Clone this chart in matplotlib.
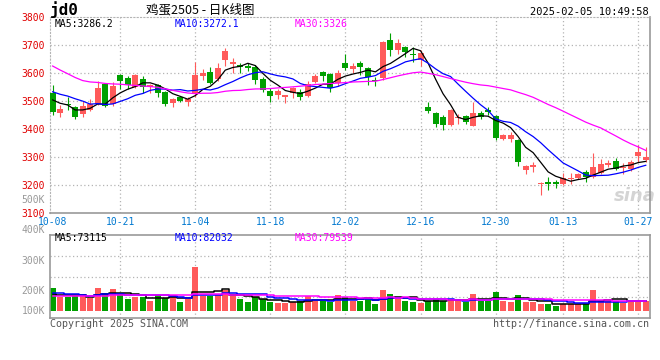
import numpy as np
import pandas as pd
import matplotlib
matplotlib.use('Agg')
import matplotlib.pyplot as plt
import matplotlib.transforms as mtransforms

# egg futures jd2505, daily candles 2024-10-08 .. 2025-02-05
opens = [3531, 3458, 3492, 3479, 3453, 3470, 3492, 3560, 3490, 3594,
         3582, 3551, 3580, 3550, 3557, 3532, 3494, 3515, 3497, 3525,
         3591, 3606, 3578, 3648, 3633, 3630, 3627, 3624, 3580, 3537,
         3521, 3517, 3529, 3534, 3520, 3570, 3603, 3597, 3565, 3638,
         3616, 3638, 3618, 3576, 3582, 3719, 3684, 3693, 3668, 3648,
         3481, 3459, 3445, 3415, 3441, 3447, 3412, 3459, 3469, 3447,
         3366, 3366, 3362, 3253, 3265, 3205, 3213, 3211, 3205, 3222,
         3225, 3248, 3231, 3245, 3272, 3287, 3262, 3257, 3305, 3290]
highs = [3558, 3487, 3516, 3482, 3500, 3508, 3574, 3564, 3570, 3598,
         3590, 3596, 3590, 3562, 3562, 3536, 3512, 3520, 3514, 3642,
         3614, 3623, 3637, 3690, 3654, 3638, 3636, 3628, 3586, 3546,
         3545, 3524, 3552, 3543, 3574, 3597, 3609, 3600, 3612, 3669,
         3638, 3644, 3622, 3588, 3717, 3745, 3721, 3697, 3695, 3683,
         3499, 3462, 3451, 3473, 3455, 3450, 3499, 3467, 3479, 3452,
         3384, 3391, 3364, 3274, 3284, 3213, 3231, 3219, 3243, 3243,
         3245, 3255, 3314, 3293, 3290, 3296, 3278, 3290, 3344, 3335]
lows = [3451, 3443, 3469, 3437, 3444, 3465, 3488, 3478, 3482, 3545,
        3545, 3548, 3530, 3530, 3515, 3484, 3478, 3496, 3483, 3516,
        3576, 3560, 3574, 3627, 3600, 3602, 3607, 3560, 3533, 3498,
        3508, 3495, 3511, 3505, 3516, 3566, 3574, 3534, 3556, 3612,
        3602, 3594, 3558, 3555, 3576, 3662, 3669, 3659, 3641, 3626,
        3457, 3409, 3398, 3413, 3419, 3420, 3410, 3438, 3451, 3362,
        3360, 3356, 3269, 3240, 3249, 3165, 3183, 3191, 3202, 3205,
        3222, 3213, 3225, 3240, 3266, 3255, 3240, 3250, 3284, 3284]
closes = [3463, 3471, 3486, 3444, 3482, 3492, 3548, 3483, 3556, 3571,
          3558, 3594, 3550, 3557, 3530, 3491, 3508, 3502, 3507, 3594,
          3600, 3565, 3618, 3680, 3641, 3621, 3619, 3577, 3540, 3518,
          3535, 3522, 3546, 3516, 3562, 3590, 3591, 3548, 3602, 3620,
          3626, 3621, 3588, 3571, 3713, 3684, 3707, 3677, 3664, 3671,
          3466, 3419, 3415, 3469, 3444, 3427, 3459, 3443, 3461, 3368,
          3380, 3378, 3284, 3269, 3272, 3209, 3206, 3206, 3225, 3227,
          3239, 3228, 3264, 3276, 3281, 3258, 3265, 3282, 3320, 3302]
# volume in thousands
volumes = [178, 112, 107, 118, 118, 104, 178, 144, 171, 131,
           94, 112, 112, 78, 123, 99, 123, 70, 91, 352,
           118, 118, 123, 166, 118, 94, 70, 112, 94, 72,
           64, 64, 72, 78, 120, 80, 78, 72, 126, 112,
           80, 80, 94, 54, 166, 134, 94, 78, 70, 64,
           78, 94, 80, 94, 94, 70, 134, 78, 78, 150,
           78, 70, 126, 70, 70, 54, 54, 38, 54, 54,
           54, 54, 166, 80, 78, 78, 64, 78, 78, 78]

# sessions before 10-08, only needed so the moving averages start at the left edge
warmup_close = [3900, 3880, 3850, 3813, 3640, 3600, 3590, 3609, 3600, 3630,
                3650, 3610, 3620, 3610, 3660, 3670, 3650, 3640, 3658, 3560,
                3560, 3550, 3540, 3565, 3600, 3531, 3516, 3534, 3481]
warmup_vol = [96, 104, 110, 92, 98, 102, 95, 105, 100, 99,
              101, 97, 103, 108, 94, 100, 96, 104, 98, 98,
              150, 172, 158, 165, 155, 120, 112, 125, 115]

date_ticks = [0, 9, 19, 29, 39, 49, 59, 68, 78]
date_labels = ['10-08', '10-21', '11-04', '11-18', '12-02', '12-16', '12-30', '01-13', '01-27']
price_ticks = [3100, 3200, 3300, 3400, 3500, 3600, 3700, 3800]
vol_labels = ['500K', '400K', '300K', '200K', '100K']
vol_label_pos = [886, 646, 400, 160, 0]
ma_price_text = ['MA5:3286.2', 'MA10:3272.1', 'MA30:3326']
ma_vol_text = ['MA5:73115', 'MA10:82032', 'MA30:79539']
ma_colors = ['black', '#0000ff', '#ff00ff']

RED = '#ff5a5a'
GREEN = '#00a000'
GRID = '#b4b4b4'
FRAME = '#999999'

plt.rcParams['font.family'] = ['DejaVu Sans Mono']

o = np.array(opens, float)
h = np.array(highs, float)
l = np.array(lows, float)
c = np.array(closes, float)
v = np.array(volumes, float)
x = np.arange(len(c))
up = c >= o
cols = np.where(up, RED, GREEN)

nw = len(warmup_close)
c_all = pd.Series(warmup_close + closes)
v_all = pd.Series(warmup_vol + volumes)
ma_p = [c_all.rolling(n).mean().values[nw:] for n in (5, 10, 30)]
ma_v = [v_all.rolling(n).mean().values[nw:] for n in (5, 10, 30)]

W, H = 660, 360
fig = plt.figure(figsize=(W / 100, H / 100), dpi=100)


def px_axes(x0, y0, x1, y1):
    return fig.add_axes([x0 / W, 1 - y1 / H, (x1 - x0) / W, (y1 - y0) / H])


ax = px_axes(50, 17.3, 649.5, 213.3)
axv = px_axes(50, 234.7, 649.5, 318.3)

# ---- price panel
ax.set_xlim(-0.35, len(c) - 0.5)
ax.set_ylim(3100, 3800)
for p in price_ticks[1:-1]:
    ax.axhline(p, color=GRID, lw=0.9, ls=(0, (1, 2)), zorder=0)
for t in date_ticks[1:]:
    ax.axvline(t, color=GRID, lw=0.9, ls=(0, (1, 2)), zorder=0)

ax.vlines(x, l, h, colors=cols, lw=0.8, zorder=2)
body = np.maximum(np.abs(c - o), 3.5)
ax.bar(x, body, bottom=np.minimum(o, c), width=0.8, color=cols, lw=0, zorder=3)

for m, col in zip(ma_p, ma_colors):
    ax.plot(x, m, color=col, lw=0.9, zorder=4)

ax.set_yticks(price_ticks)
ax.set_yticklabels([str(p) for p in price_ticks])
ax.tick_params(axis='y', length=0, pad=4, labelsize=7, labelcolor='#e00000')
ax.set_xticks(date_ticks)
ax.set_xticklabels(date_labels)
ax.tick_params(axis='x', length=0, pad=2.5, labelsize=7, labelcolor='#0078d0')

for side in ('left', 'top'):
    ax.spines[side].set_linestyle((0, (1, 2)))
    ax.spines[side].set_color(GRID)
for side in ('right', 'bottom'):
    ax.spines[side].set_color(FRAME)
    ax.spines[side].set_linewidth(1.2)

ax.text(0.975, 0.09, 'sina', transform=ax.transAxes, ha='center', va='center',
        fontsize=13, style='italic', weight='bold', color='#d4d4d4',
        family='DejaVu Sans', zorder=1)

# ---- volume panel
axv.set_xlim(ax.get_xlim())
vlo, vhi = -60.8, 608
axv.set_ylim(vlo, vhi)
for g in np.linspace(vlo, vhi, 5)[1:-1]:
    axv.axhline(g, color=GRID, lw=0.9, ls=(0, (1, 2)), zorder=0)
for t in date_ticks[1:]:
    axv.axvline(t, color=GRID, lw=0.9, ls=(0, (1, 2)), zorder=0)
axv.bar(x, v, width=0.8, color=cols, lw=0, zorder=2)
for m, col in zip(ma_v, ma_colors):
    axv.plot(x, m, color=col, lw=1.1, drawstyle='steps-mid', zorder=3)
axv.set_xticks([])
axv.set_yticks([])
for s in axv.spines.values():
    s.set_color(FRAME)
    s.set_linewidth(1.2)

tr = mtransforms.blended_transform_factory(axv.transAxes, axv.transData)
for lab, pos in zip(vol_labels, vol_label_pos):
    axv.text(-0.008, pos, lab, transform=tr, ha='right', va='center',
             fontsize=7, color='#999999', clip_on=False)

# ---- header / labels
fig.text(50 / W, 1 - 10 / H, 'jd0', ha='left', va='center', fontsize=11.5, weight='bold')
fig.text(200 / W, 1 - 10 / H, '鸡蛋2505 - 日K线图', ha='center', va='center', fontsize=9,
         family=['Noto Sans CJK SC', 'DejaVu Sans'])
fig.text(649 / W, 1 - 12 / H, '2025-02-05 10:49:58', ha='right', va='center', fontsize=7.5)

for txt, col, xp in zip(ma_price_text, ma_colors, [55, 175, 295]):
    fig.text(xp / W, 1 - 24 / H, txt, ha='left', va='center', fontsize=7, color=col)
for txt, col, xp in zip(ma_vol_text, ma_colors, [55, 175, 295]):
    fig.text(xp / W, 1 - 238 / H, txt, ha='left', va='center', fontsize=7, color=col)

fig.text(50 / W, 1 - 324 / H, 'Copyright 2025 SINA.COM', ha='left', va='center',
         fontsize=7.2, color='#555555')
fig.text(649 / W, 1 - 324 / H, 'http://finance.sina.com.cn', ha='right', va='center',
         fontsize=7.2, color='#555555')

fig.savefig('out.png', dpi=100, facecolor='white')
